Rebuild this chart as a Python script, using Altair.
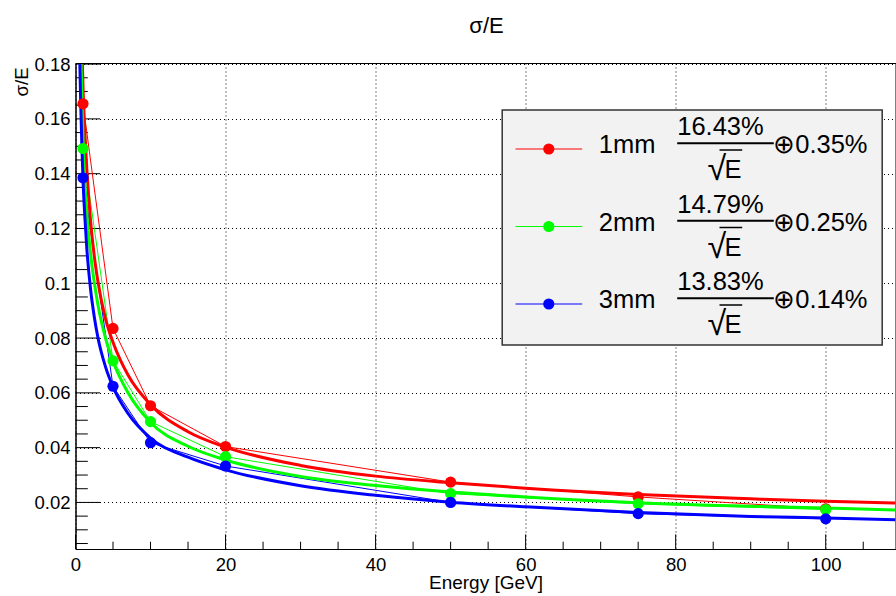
import altair as alt
import pandas as pd

# Beam energies and measured relative resolution for each absorber thickness
energy_gev = [1, 5, 10, 20, 50, 75, 100]
sigma_1mm = [0.1655, 0.0835, 0.0553, 0.0404, 0.0274, 0.0220, 0.0177]
sigma_2mm = [0.1492, 0.0717, 0.0495, 0.0367, 0.0232, 0.0195, 0.0174]
sigma_3mm = [0.1385, 0.0624, 0.0418, 0.0333, 0.0200, 0.0159, 0.0140]

# Fitted resolution curves, sampled along the energy axis
fit_e_1mm = [0.92, 1, 1.25, 1.5, 2, 2.5, 3, 4, 5, 7, 10, 15, 20, 30, 40, 50, 60, 75, 90, 100, 109.3]
fit_1mm = [0.180, 0.172, 0.155, 0.142, 0.123, 0.110, 0.1005, 0.087, 0.0785, 0.0665, 0.0557,
           0.0458, 0.0402, 0.0335, 0.0296, 0.0272, 0.0252, 0.0229, 0.0213, 0.0204, 0.0198]
fit_e_2mm = [0.75, 1, 1.5, 2, 3, 4, 5, 7, 10, 15, 20, 30, 40, 50, 60, 75, 90, 100, 109.3]
fit_2mm = [0.180, 0.153, 0.126, 0.111, 0.092, 0.080, 0.0715, 0.060, 0.0492, 0.0405, 0.0355,
           0.0295, 0.0262, 0.0238, 0.0220, 0.0199, 0.0186, 0.0180, 0.0172]
fit_e_3mm = [0.58, 0.7, 0.85, 1, 1.25, 1.5, 2, 2.5, 3, 4, 5, 7, 10, 15, 20, 30, 40, 50, 60, 75, 90, 100, 109.3]
fit_3mm = [0.180, 0.165, 0.150, 0.138, 0.124, 0.113, 0.098, 0.0878, 0.080, 0.0695, 0.0622, 0.0525,
           0.0435, 0.0365, 0.0319, 0.0261, 0.0226, 0.0201, 0.0184, 0.0163, 0.0149, 0.0143, 0.0137]

series_names = ["1mm", "2mm", "3mm"]
series_colors = ["#ff0000", "#00ff00", "#0000ff"]
stochastic_terms = ["16.43%", "14.79%", "13.83%"]
constant_terms = ["0.35%", "0.25%", "0.14%"]
title_text = "σ/E"

# Axis ticks
x_major = [0, 20, 40, 60, 80, 100]
x_minor = [5, 10, 15, 25, 30, 35, 45, 50, 55, 65, 70, 75, 85, 90, 95, 105]
y_major = [0.02, 0.04, 0.06, 0.08, 0.10, 0.12, 0.14, 0.16, 0.18]
y_minor = [round(0.005 * k, 3) for k in range(1, 36) if k % 4 != 0]

FONT = "Liberation Sans"
W, H = 820, 486
MARKER = 125

pts = pd.concat([
    pd.DataFrame({"energy": energy_gev, "sigma": s, "series": n})
    for n, s in zip(series_names, [sigma_1mm, sigma_2mm, sigma_3mm])
], ignore_index=True)
fits = pd.concat([
    pd.DataFrame({"energy": e, "sigma": s, "series": n})
    for n, e, s in zip(series_names, [fit_e_1mm, fit_e_2mm, fit_e_3mm], [fit_1mm, fit_2mm, fit_3mm])
], ignore_index=True)

xs = alt.Scale(domain=[0, 109.3], nice=False, zero=False)
ys = alt.Scale(domain=[0.003, 0.1804], nice=False, zero=False)

x_axis = alt.Axis(
    values=x_major, format="d", grid=True, gridColor="black", gridDash=[1, 3], gridWidth=1,
    ticks=False, tickSize=0, domainColor="black", domainWidth=1,
    labelFont=FONT, labelFontSize=18.5, labelColor="black", labelPadding=21.5,
    labelBaseline="alphabetic", labelFlush=False, labelOverlap=False,
    title="Energy [GeV]", titleFont=FONT, titleFontSize=19, titleFontWeight="normal",
    titleColor="black", titleX=W / 2, titleY=39.5, titleAlign="center", titleBaseline="alphabetic",
)
y_axis = alt.Axis(
    values=y_major, format=".2~f", grid=True, gridColor="black", gridDash=[1, 3], gridWidth=1,
    ticks=False, tickSize=0, domainColor="black", domainWidth=1,
    labelFont=FONT, labelFontSize=18.5, labelColor="black", labelPadding=5.5,
    labelAlign="right", labelBaseline="middle", labelFlush=False, labelOverlap=False,
    title="σ/E", titleFont=FONT, titleFontSize=18.5, titleFontWeight="normal", titleColor="black",
    titleX=-54, titleY=4, titleAngle=270, titleAlign="right", titleBaseline="middle",
)


def X(field):
    return alt.X(field, type="quantitative", scale=xs, axis=x_axis)


def Y(field):
    return alt.Y(field, type="quantitative", scale=ys, axis=y_axis)


color = alt.Color("series:N", scale=alt.Scale(domain=series_names, range=series_colors), legend=None)

layers = []

# Inward tick marks along both axes
layers.append(alt.Chart(pd.DataFrame({"energy": x_major})).mark_rule(color="black", strokeWidth=1)
              .encode(x=X("energy"), y=alt.value(H), y2=alt.value(H - 14.6)))
layers.append(alt.Chart(pd.DataFrame({"energy": x_minor})).mark_rule(color="black", strokeWidth=1)
              .encode(x=X("energy"), y=alt.value(H), y2=alt.value(H - 7.3)))
layers.append(alt.Chart(pd.DataFrame({"sigma": y_major})).mark_rule(color="black", strokeWidth=1)
              .encode(y=Y("sigma"), x=alt.value(0), x2=alt.value(24.6)))
layers.append(alt.Chart(pd.DataFrame({"sigma": y_minor})).mark_rule(color="black", strokeWidth=1)
              .encode(y=Y("sigma"), x=alt.value(0), x2=alt.value(12.3)))

# Graph polylines, fitted curves and measured points
layers.append(alt.Chart(pts).mark_line(strokeWidth=1, clip=True)
              .encode(x=X("energy"), y=Y("sigma"), color=color, order="energy:Q"))
layers.append(alt.Chart(fits).mark_line(strokeWidth=3, interpolate="monotone", clip=True)
              .encode(x=X("energy"), y=Y("sigma"), color=color, order="energy:Q"))
layers.append(alt.Chart(pts).mark_circle(size=MARKER, opacity=1, clip=True)
              .encode(x=X("energy"), y=Y("sigma"), color=color))

# Legend box
one = pd.DataFrame({"k": [0]})
layers.append(alt.Chart(one).mark_rect(fill="#f2f2f2", stroke="#333333", strokeWidth=1.5)
              .encode(x=alt.value(426.7), x2=alt.value(806.7), y=alt.value(47), y2=alt.value(282)))


def text_layer(txt, x, y, size=25.5, align="left"):
    return (alt.Chart(pd.DataFrame({"t": [txt]}))
            .mark_text(font=FONT, fontSize=size, color="black", align=align, baseline="alphabetic")
            .encode(x=alt.value(x), y=alt.value(y), text="t:N"))


for i, (name, col, a_term, c_term) in enumerate(zip(series_names, series_colors, stochastic_terms, constant_terms)):
    cy = 86 + 77.5 * i
    layers.append(alt.Chart(one).mark_rule(color=col, strokeWidth=1)
                  .encode(x=alt.value(440), x2=alt.value(506.7), y=alt.value(cy)))
    layers.append(alt.Chart(one).mark_circle(color=col, size=MARKER, opacity=1)
                  .encode(x=alt.value(473.3), y=alt.value(cy)))
    layers.append(text_layer(name, 523.3, cy + 4.3))
    layers.append(text_layer(a_term, 601.7, cy - 14))
    layers.append(alt.Chart(one).mark_rule(color="black", strokeWidth=2)
                  .encode(x=alt.value(601.7), x2=alt.value(698.3), y=alt.value(cy - 5.7)))
    layers.append(text_layer("√", 632, cy + 31, size=34))
    layers.append(text_layer("E", 649, cy + 29.3))
    layers.append(alt.Chart(one).mark_rule(color="black", strokeWidth=1.5)
                  .encode(x=alt.value(644), x2=alt.value(666.7), y=alt.value(cy + 1)))
    layers.append(text_layer("⊕" + c_term, 697.7, cy + 4.3))

# Chart heading above the frame
layers.append(text_layer(title_text, W / 2 + 1, -30, size=22, align="center"))

chart = (
    alt.layer(*layers)
    .properties(
        width=W, height=H,
        autosize=alt.AutoSizeParams(type="none"),
        padding={"left": 75.5, "top": 63, "right": 0.5, "bottom": 47},
        background="white",
    )
    .configure_view(stroke="black", strokeWidth=1)
)

chart.save("out.html", embed_options={"renderer": "svg", "actions": False})
